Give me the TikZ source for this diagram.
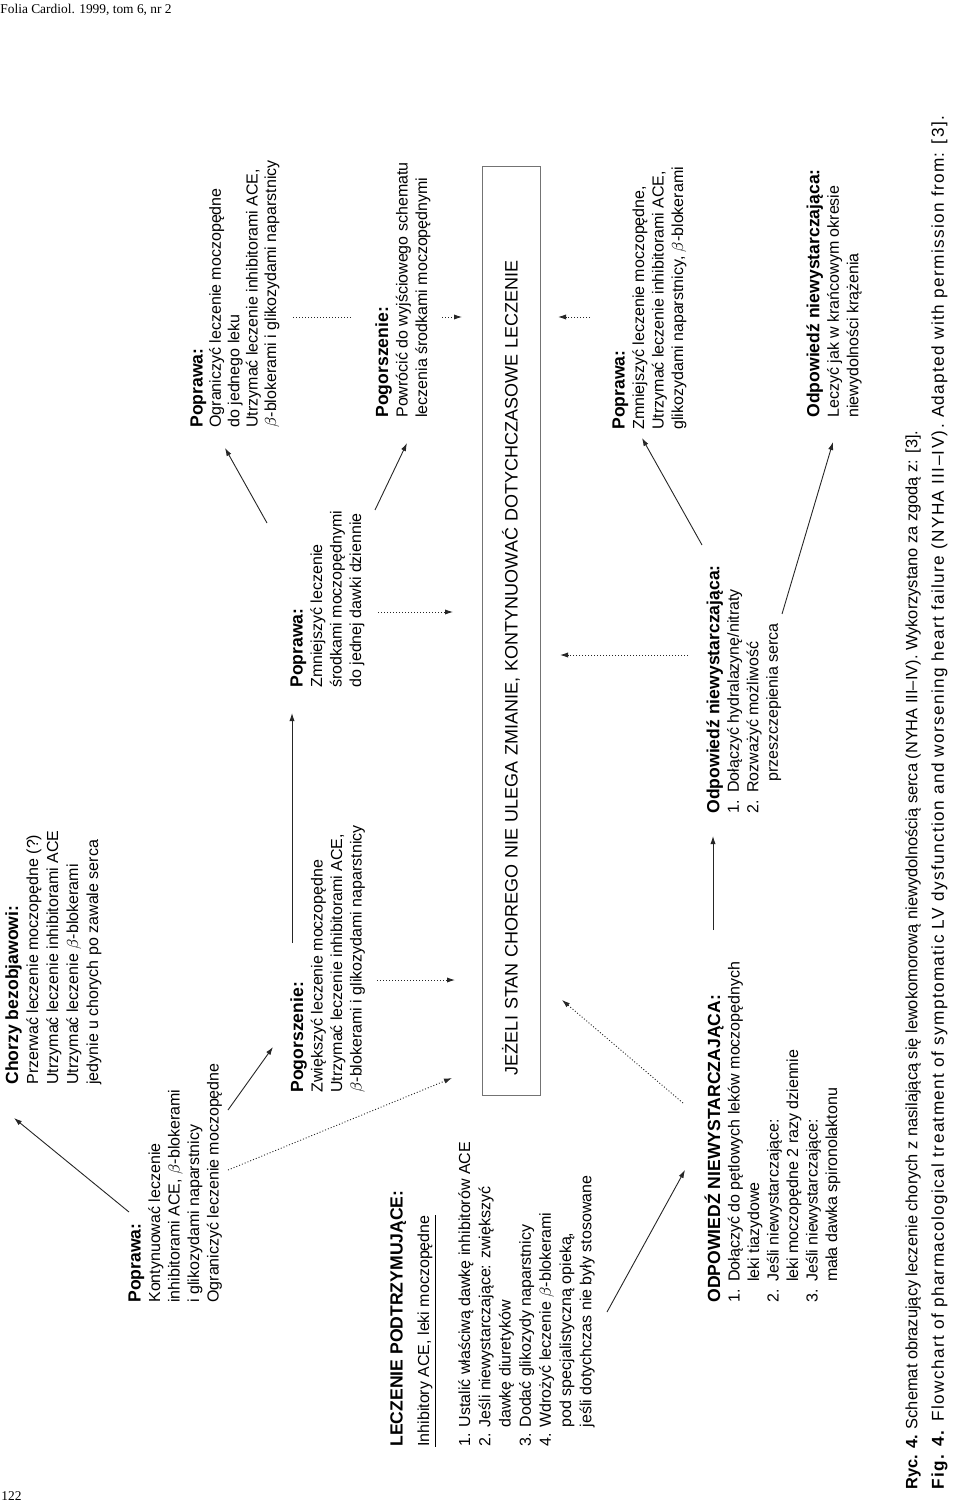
\documentclass[tikz,border=0pt]{standalone}
\usepackage{fontspec}
\setmainfont{Liberation Sans}
\newfontfamily\serifhead{Liberation Serif}
\usetikzlibrary{arrows.meta}

\newcommand{\hdr}[1]{{\fontsize{8.8}{9.75}\selectfont\bfseries #1}}
\newcommand{\nr}[1]{\makebox[1.3em][l]{#1}}

\begin{document}
\begin{tikzpicture}[
    x=0.5pt, y=-0.5pt,
    txt/.style={rotate=90, anchor=north west, inner sep=0pt, align=left,
      font=\fontsize{8}{9.75}\selectfont},
    ramka/.style={draw=black!55, line width=0.5pt, rotate=90,
      minimum height=29pt, inner xsep=10pt, inner ysep=0pt,
      text width=444pt, align=left, font=\fontsize{9}{11}\selectfont},
    arr/.style={-{Latex[length=4pt,width=2.6pt]}, line width=0.45pt, black!85},
    dotarr/.style={arr, dash pattern=on 0.5pt off 1pt},
    dotline/.style={line width=0.45pt, black!85, dash pattern=on 0.5pt off 1pt}
  ]
    \useasboundingbox (0,0) rectangle (960,1507);

    % ── page header ──
    \node[anchor=north west, inner sep=0pt, font=\serifhead\fontsize{6.7}{8}\selectfont]
      (naglowek) at (0,4) {Folia Cardiol. 1999, tom 6, nr 2};
    \node[anchor=north west, inner sep=0pt, font=\serifhead\fontsize{6.7}{8}\selectfont]
      (strona) at (1,1491) {122};

    % ── top row ──
    \node[txt, font=\fontsize{8}{10}\selectfont] (chorzy) at (5,1085)
      {\hdr{Chorzy bezobjawowi:}\\
       Przerwać leczenie moczopędne (?)\\
       Utrzymać leczenie inhibitorami ACE\\
       Utrzymać leczenie $\beta$-blokerami\\
       jedynie u chorych po zawale serca};
    \node[txt] (popK) at (128,1303)
      {\hdr{Poprawa:}\\
       Kontynuować leczenie\\
       inhibitorami ACE, $\beta$-blokerami\\
       i glikozydami naparstnicy\\
       Ograniczyć leczenie moczopędne};
    \node[txt, font=\fontsize{8}{9.2}\selectfont] (popOg) at (190,428)
      {\hdr{Poprawa:}\\
       Ograniczyć leczenie moczopędne\\
       do jednego leku\\
       Utrzymać leczenie inhibitorami ACE,\\
       $\beta$-blokerami i glikozydami naparstnicy};

    % ── middle row ──
    \node[txt] (pogZ) at (290,1093)
      {\hdr{Pogorszenie:}\\
       Zwiększyć leczenie moczopędne\\
       Utrzymać leczenie inhibitorami ACE,\\
       $\beta$-blokerami i glikozydami naparstnicy};
    \node[txt] (popZm) at (290,688)
      {\hdr{Poprawa:}\\
       Zmniejszyć leczenie\\
       środkami moczopędnymi\\
       do jednej dawki dziennie};
    \node[txt] (pogPow) at (375,418)
      {\hdr{Pogorszenie:}\\
       Powrócić do wyjściowego schematu\\
       leczenia środkami moczopędnymi};
    \node[txt] (leczenie) at (390,1447) {\hdr{LECZENIE PODTRZYMUJĄCE:}};
    \node[txt] (leki) at (417,1447) {\underline{Inhibitory ACE, leki moczopędne}};
    \node[txt, font=\fontsize{8}{10.1}\selectfont] (kroki) at (458,1447)
      {1. Ustalić właściwą dawkę inhibitorów ACE\\
       2. Jeśli niewystarczające: zwiększyć\\
       \hphantom{2. }dawkę diuretyków\\
       3. Dodać glikozydy naparstnicy\\
       4. Wdrożyć leczenie $\beta$-blokerami\\
       \hphantom{4. }pod specjalistyczną opieką,\\
       \hphantom{4. }jeśli dotychczas nie były stosowane};

    % ── frame ──
    \node[ramka] (stan) at (511,631)
      {JEŻELI STAN CHOREGO NIE ULEGA ZMIANIE, KONTYNUOWAĆ DOTYCHCZASOWE LECZENIE};

    % ── bottom row ──
    \node[txt] (popB) at (612,430)
      {\hdr{Poprawa:}\\
       Zmniejszyć leczenie moczopędne,\\
       Utrzymać leczenie inhibitorami ACE,\\
       glikozydami naparstnicy, $\beta$-blokerami};
    \node[txt] (odpC) at (704,1303)
      {\hdr{ODPOWIEDŹ NIEWYSTARCZAJĄCA:}\\
       \nr{1.}Dołączyć do pętlowych leków moczopędnych\\
       \hspace*{1.3em}leki tiazydowe\\
       \nr{2.}Jeśli niewystarczające:\\
       \hspace*{1.3em}leki moczopędne 2 razy dziennie\\
       \nr{3.}Jeśli niewystarczające:\\
       \hspace*{1.3em}mała dawka spironolaktonu};
    \node[txt] (odpN) at (706,814)
      {\hdr{Odpowiedź niewystarczająca:}\\
       \nr{1.}Dołączyć hydralazynę/nitraty\\
       \nr{2.}Rozważyć możliwość\\
       \hspace*{2em}przeszczepienia serca};
    \node[txt] (odpL) at (806,418)
      {\hdr{Odpowiedź niewystarczająca:}\\
       Leczyć jak w krańcowym okresie\\
       niewydolności krążenia};

    % ── captions ──
    \node[txt, font=\fontsize{8.2}{10}\selectfont] (ryc) at (905,1490)
      {\textbf{Ryc. 4.} Schemat obrazujący leczenie chorych z nasilającą się lewokomorową niewydolnością serca (NYHA III--IV). Wykorzystano za zgodą z: [3].};
    \node[txt, font=\fontsize{8.6}{10}\selectfont\addfontfeature{LetterSpace=8}] (fig) at (931,1490)
      {\textbf{Fig. 4.} Flowchart of pharmacological treatment of symptomatic LV dysfunction and worsening heart failure (NYHA III--IV). Adapted with permission from: [3].};

    % ── arrow ends ──
    \coordinate (kC) at (129,1212);   \coordinate (cK) at (14,1118);
    \coordinate (kZ) at (228,1110);   \coordinate (zK) at (273,1047);
    \coordinate (kS) at (228,1170);   \coordinate (sK) at (452,1078);
    \coordinate (zS) at (377,980);    \coordinate (sZ) at (455,980);
    \coordinate (zM) at (292,943);    \coordinate (mZ) at (292,713);
    \coordinate (mO) at (267,523);    \coordinate (oM) at (225,448);
    \coordinate (mP) at (375,510);    \coordinate (pM) at (407,443);
    \coordinate (mS) at (378,612);    \coordinate (sM) at (453,612);
    \coordinate (oP) at (293,317);    \coordinate (pO) at (353,317);
    \coordinate (pS) at (442,317);    \coordinate (sP) at (462,317);
    \coordinate (lC) at (607,1312);   \coordinate (cL) at (685,1170);
    \coordinate (cS) at (683,1103);   \coordinate (sC) at (562,1000);
    \coordinate (cN) at (713,930);    \coordinate (nC) at (713,836);
    \coordinate (nS) at (688,655);    \coordinate (sN) at (560,655);
    \coordinate (nB) at (702,545);    \coordinate (bN) at (642,438);
    \coordinate (nL) at (782,614);    \coordinate (lN) at (833,442);
    \coordinate (bS) at (590,317);    \coordinate (sB) at (558,317);

    % ── solid arrows ──
    \draw[arr] (kC) -- (cK);
    \draw[arr] (kZ) -- (zK);
    \draw[arr] (zM) -- (mZ);
    \draw[arr] (mO) -- (oM);
    \draw[arr] (mP) -- (pM);
    \draw[arr] (lC) -- (cL);
    \draw[arr] (cN) -- (nC);
    \draw[arr] (nB) -- (bN);
    \draw[arr] (nL) -- (lN);

    % ── dotted arrows ──
    \draw[dotarr] (kS) -- (sK);
    \draw[dotarr] (zS) -- (sZ);
    \draw[dotarr] (mS) -- (sM);
    \draw[dotline] (oP) -- (pO);
    \draw[dotarr] (pS) -- (sP);
    \draw[dotarr] (cS) -- (sC);
    \draw[dotarr] (nS) -- (sN);
    \draw[dotarr] (bS) -- (sB);
\end{tikzpicture}
\end{document}
